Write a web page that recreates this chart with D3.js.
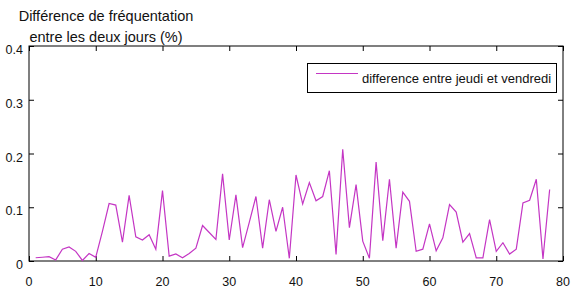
<!DOCTYPE html>
<html>
<head>
<meta charset="utf-8">
<script src="https://cdn.jsdelivr.net/npm/d3@7"></script>
<style>
  body { margin: 0; background: #fff; }
  text { font-family: Arial, "Liberation Sans", sans-serif; fill: #111; }
</style>
</head>
<body>
<svg id="chart" width="579" height="290"></svg>
<script>
// jours et difference de frequentation (jeudi / vendredi)
var days = [1, 2, 3, 4, 5, 6, 7, 8, 9, 10, 11, 12, 13, 14, 15, 16, 17, 18, 19, 20,
    21, 22, 23, 24, 25, 26, 27, 28, 29, 30, 31, 32, 33, 34, 35, 36, 37, 38, 39, 40,
    41, 42, 43, 44, 45, 46, 47, 48, 49, 50, 51, 52, 53, 54, 55, 56, 57, 58, 59, 60,
    61, 62, 63, 64, 65, 66, 67, 68, 69, 70, 71, 72, 73, 74, 75, 76, 77, 78];
var diff = [0.006, 0.007, 0.008, 0.002, 0.022, 0.026, 0.018, 0.001, 0.014, 0.007,
    0.055, 0.107, 0.104, 0.035, 0.122, 0.045, 0.039, 0.049, 0.022, 0.131,
    0.009, 0.013, 0.006, 0.014, 0.024, 0.066, 0.053, 0.040, 0.162, 0.039,
    0.123, 0.025, 0.072, 0.120, 0.024, 0.114, 0.055, 0.100, 0.005, 0.160,
    0.106, 0.146, 0.112, 0.120, 0.168, 0.012, 0.208, 0.062, 0.142, 0.037,
    0.005, 0.184, 0.038, 0.152, 0.024, 0.128, 0.111, 0.018, 0.022, 0.069,
    0.019, 0.043, 0.105, 0.091, 0.035, 0.051, 0.006, 0.006, 0.077, 0.018,
    0.034, 0.013, 0.022, 0.108, 0.113, 0.152, 0.004, 0.133];
var xTicks = [0, 10, 20, 30, 40, 50, 60, 70, 80];
var yTicks = [0, 0.1, 0.2, 0.3, 0.4];
var seriesName = "difference entre jeudi et vendredi";
var titleLines = ["Différence de fréquentation", "entre les deux jours (%)"];

// plot box (window.top is reserved, so no bare "top" here)
var box = {x0: 29, x1: 563, y0: 46, y1: 261};
var lineColor = "#c436c4";

var svg = d3.select("#chart");

var x = d3.scaleLinear().domain([0, 80]).range([box.x0, box.x1]);
var y = d3.scaleLinear().domain([0, 0.4]).range([box.y1, box.y0]);

// ticks inside the box, on all four sides (matlab style)
var fmt = function(d) { return d === 0 ? "0" : d3.format(".1f")(d); };

svg.append("g")
    .attr("transform", "translate(0," + box.y1 + ")")
    .call(d3.axisTop(x).tickValues(xTicks).tickSize(5).tickFormat(""))
    .call(g => g.select(".domain").remove());
svg.append("g")
    .attr("transform", "translate(0," + box.y0 + ")")
    .call(d3.axisBottom(x).tickValues(xTicks).tickSize(5).tickFormat(""))
    .call(g => g.select(".domain").remove());
svg.append("g")
    .attr("transform", "translate(" + box.x0 + ",0)")
    .call(d3.axisRight(y).tickValues(yTicks).tickSize(5).tickFormat(""))
    .call(g => g.select(".domain").remove());
svg.append("g")
    .attr("transform", "translate(" + box.x1 + ",0)")
    .call(d3.axisLeft(y).tickValues(yTicks).tickSize(5).tickFormat(""))
    .call(g => g.select(".domain").remove());

svg.selectAll("line").attr("stroke", "#000");

svg.append("rect")
    .attr("x", box.x0).attr("y", box.y0)
    .attr("width", box.x1 - box.x0).attr("height", box.y1 - box.y0)
    .attr("fill", "none").attr("stroke", "#000").attr("stroke-width", 1);

// tick labels
svg.selectAll(".xlab")
    .data(xTicks)
    .enter().append("text")
    .attr("class", "xlab")
    .attr("x", d => x(d))
    .attr("y", 286)
    .attr("text-anchor", "middle")
    .style("font-size", "12.5px")
    .text(d => d);

svg.selectAll(".ylab")
    .data(yTicks)
    .enter().append("text")
    .attr("class", "ylab")
    .attr("x", box.x0 - 6)
    .attr("y", d => y(d) + 8)
    .attr("text-anchor", "end")
    .style("font-size", "12.5px")
    .text(fmt);

// title (two lines)
svg.selectAll(".title")
    .data(titleLines)
    .enter().append("text")
    .attr("class", "title")
    .attr("x", 106)
    .attr("y", (d, i) => 20.5 + i * 21)
    .attr("text-anchor", "middle")
    .style("font-size", "14.5px")
    .text(d => d);

// the series
var line = d3.line()
    .x((d, i) => x(days[i]))
    .y(d => y(d));

svg.append("path")
    .datum(diff)
    .attr("d", line)
    .attr("fill", "none")
    .attr("stroke", lineColor)
    .attr("stroke-width", 1.2);

// legend
var legend = svg.append("g");
legend.append("rect")
    .attr("x", 307.5).attr("y", 63.5)
    .attr("width", 249).attr("height", 29)
    .attr("fill", "#fff").attr("stroke", "#000");
legend.append("line")
    .attr("x1", 316).attr("x2", 358)
    .attr("y1", 73.5).attr("y2", 73.5)
    .attr("stroke", lineColor).attr("stroke-width", 1.2);
legend.append("text")
    .attr("x", 362).attr("y", 83)
    .style("font-size", "13px")
    .text(seriesName);
</script>
</body>
</html>
